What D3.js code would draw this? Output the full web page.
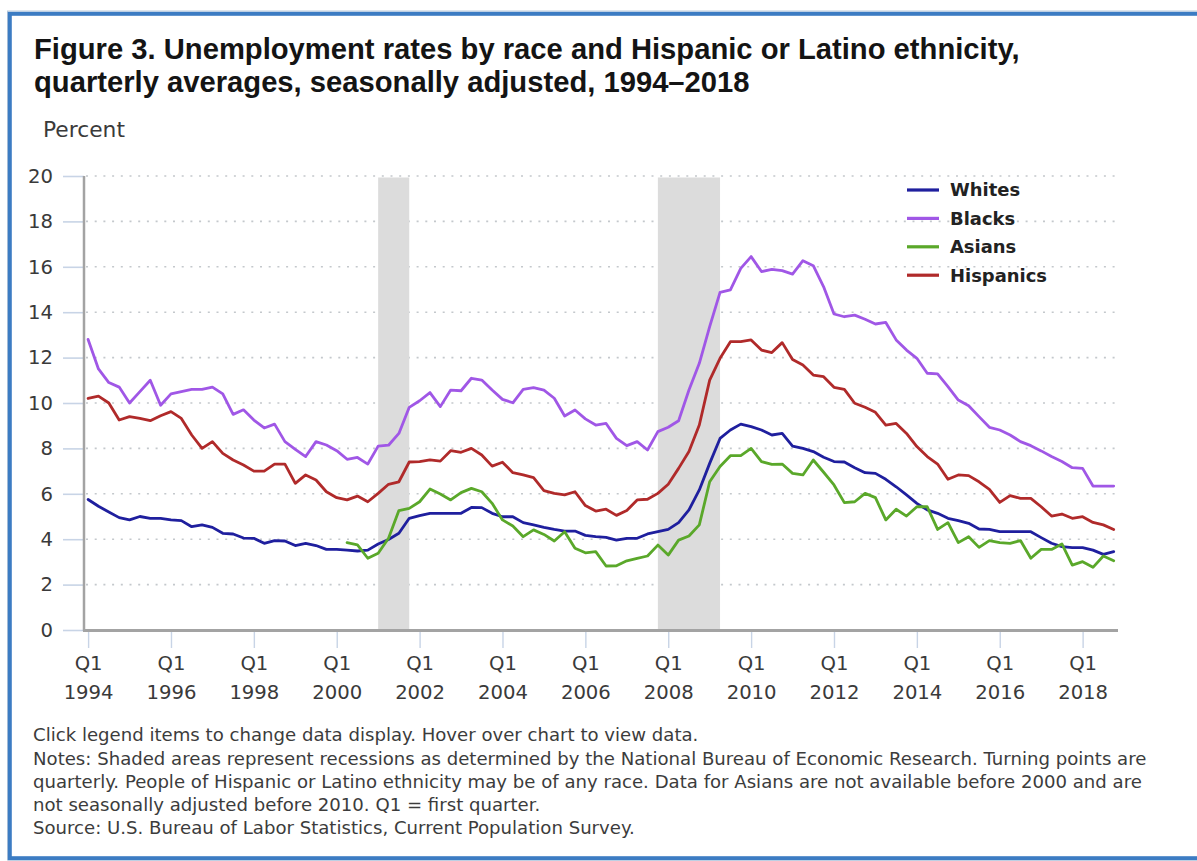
<!DOCTYPE html>
<html>
<head>
<meta charset="utf-8">
<title>Unemployment rates by race and Hispanic or Latino ethnicity</title>
<script src="https://cdn.jsdelivr.net/npm/d3@7"></script>
<style>
  html, body { margin: 0; padding: 0; background: #ffffff; }
  svg { display: block; }
</style>
</head>
<body>
<svg id="chart" width="1197" height="861"></svg>
<script>
// ---- Data: quarterly averages, percent -------------------------------------
const years = d3.range(1994, 2019);
const quarterNames = ["Q1", "Q2", "Q3", "Q4"];
const categories = years.flatMap(yr => quarterNames.map(q => `${yr} ${q}`));

const whites = [
  5.75, 5.45, 5.2, 4.95, 4.85, 5.0, 4.92, 4.92, 4.85, 4.82, 4.55, 4.63,
  4.52, 4.26, 4.23, 4.05, 4.04, 3.82, 3.94, 3.92, 3.72, 3.82, 3.72, 3.55,
  3.55, 3.52, 3.48, 3.52, 3.79, 3.99, 4.26, 4.92, 5.04, 5.14, 5.14, 5.14,
  5.14, 5.4, 5.39, 5.14, 4.99, 4.99, 4.73, 4.63, 4.52, 4.43, 4.36, 4.36,
  4.17, 4.11, 4.08, 3.96, 4.04, 4.04, 4.23, 4.33, 4.43, 4.73, 5.29, 6.17,
  7.34, 8.44, 8.81, 9.07, 8.96, 8.81, 8.59, 8.66, 8.1, 8.0, 7.86, 7.61,
  7.42, 7.4, 7.15, 6.93, 6.9, 6.64, 6.31, 5.95, 5.58, 5.29, 5.14, 4.92,
  4.82, 4.7, 4.45, 4.43, 4.33, 4.33, 4.33, 4.33, 4.07, 3.82, 3.67, 3.63,
  3.63, 3.52, 3.33, 3.45
];

const blacks = [
  12.8, 11.5, 10.9, 10.7, 10.0, 10.5, 11.0, 9.9, 10.4, 10.5, 10.6, 10.6,
  10.7, 10.4, 9.5, 9.7, 9.25, 8.9, 9.07, 8.3, 7.96, 7.64, 8.3, 8.15,
  7.9, 7.52, 7.6, 7.31, 8.1, 8.14, 8.66, 9.81, 10.1, 10.46, 9.84, 10.57,
  10.54, 11.09, 11.01, 10.57, 10.16, 10.01, 10.6, 10.68, 10.57, 10.21, 9.43, 9.69,
  9.3, 9.03, 9.1, 8.44, 8.12, 8.3, 7.93, 8.74, 8.93, 9.22, 10.57, 11.75,
  13.36, 14.87, 14.98, 15.93, 16.45, 15.79, 15.89, 15.83, 15.68, 16.27, 16.05, 15.12,
  13.92, 13.8, 13.87, 13.69, 13.48, 13.55, 12.78, 12.33, 11.97, 11.31, 11.28, 10.72,
  10.13, 9.88, 9.4, 8.93, 8.81, 8.59, 8.3, 8.12, 7.89, 7.64, 7.42, 7.15,
  7.12, 6.34, 6.34, 6.34
];

// Not available before 2000
const asians = [
  null, null, null, null, null, null, null, null, null, null, null, null,
  null, null, null, null, null, null, null, null, null, null, null, null,
  null, 3.85, 3.75, 3.16, 3.38, 4.04, 5.26, 5.36, 5.65, 6.21, 5.99, 5.73,
  6.05, 6.24, 6.09, 5.58, 4.85, 4.58, 4.11, 4.41, 4.21, 3.92, 4.33, 3.6,
  3.4, 3.45, 2.82, 2.83, 3.05, 3.16, 3.26, 3.74, 3.3, 3.96, 4.14, 4.63,
  6.53, 7.2, 7.68, 7.68, 8.0, 7.42, 7.3, 7.31, 6.9, 6.83, 7.49, 6.95,
  6.39, 5.61, 5.65, 6.02, 5.83, 4.85, 5.32, 5.02, 5.43, 5.43, 4.43, 4.73,
  3.85, 4.11, 3.64, 3.94, 3.85, 3.82, 3.94, 3.16, 3.55, 3.55, 3.79, 2.86,
  3.01, 2.76, 3.26, 3.05
];

const hispanics = [
  10.2, 10.3, 10.0, 9.25, 9.4, 9.32, 9.22, 9.44, 9.62, 9.32, 8.59, 8.0,
  8.3, 7.78, 7.49, 7.27, 7.0, 7.0, 7.31, 7.31, 6.46, 6.83, 6.61, 6.09,
  5.83, 5.73, 5.9, 5.65, 6.02, 6.42, 6.53, 7.4, 7.42, 7.49, 7.44, 7.9,
  7.83, 8.0, 7.71, 7.22, 7.39, 6.93, 6.83, 6.71, 6.14, 6.02, 5.95, 6.09,
  5.48, 5.24, 5.32, 5.05, 5.26, 5.73, 5.76, 6.02, 6.42, 7.12, 7.86, 9.03,
  11.01, 11.97, 12.7, 12.7, 12.78, 12.33, 12.22, 12.66, 11.92, 11.67, 11.23, 11.16,
  10.69, 10.6, 9.99, 9.81, 9.59, 9.03, 9.1, 8.66, 8.08, 7.64, 7.31, 6.64,
  6.83, 6.8, 6.53, 6.2, 5.62, 5.92, 5.8, 5.8, 5.43, 5.02, 5.11, 4.92,
  4.99, 4.74, 4.63, 4.43
];

const seriesNames = ["Whites", "Blacks", "Asians", "Hispanics"];
const seriesValues = [whites, blacks, asians, hispanics];
const seriesColors = ["#1f1f9e", "#a057e6", "#5aa82a", "#b02a2a"];

// NBER recessions, turning points by quarter
const recessions = [["2001 Q1", "2001 Q4"], ["2007 Q4", "2009 Q2"]];

const tickYears = [1994, 1996, 1998, 2000, 2002, 2004, 2006, 2008, 2010, 2012, 2014, 2016, 2018];
const yTicks = [0, 2, 4, 6, 8, 10, 12, 14, 16, 18, 20];

const titleLines = [
  "Figure 3. Unemployment rates by race and Hispanic or Latino ethnicity,",
  "quarterly averages, seasonally adjusted, 1994\u20132018"
];
const noteLines = [
  "Click legend items to change data display. Hover over chart to view data.",
  "Notes: Shaded areas represent recessions as determined by the National Bureau of Economic Research. Turning points are",
  "quarterly. People of Hispanic or Latino ethnicity may be of any race. Data for Asians are not available before 2000 and are",
  "not seasonally adjusted before 2010. Q1 = first quarter.",
  "Source: U.S. Bureau of Labor Statistics, Current Population Survey."
];

// ---- Drawing ---------------------------------------------------------------
const svg = d3.select("#chart");
const sansBold = "'Liberation Sans', Arial, sans-serif";
const uiFont = "'DejaVu Sans', Verdana, sans-serif";

// scale a text element's font so its rendered width equals the given width
function fitWidth(sel, width) {
  const fs = parseFloat(sel.attr("font-size"));
  const w = sel.node().getComputedTextLength();
  return fs * width / w;
}

// frame
svg.append("rect").attr("x", 7.5).attr("y", 11).attr("width", 1240).attr("height", 849)
  .attr("fill", "none").attr("stroke", "#bccbdc").attr("stroke-width", 1);
svg.append("rect").attr("x", 9.8).attr("y", 13.8).attr("width", 1240).attr("height", 844.4)
  .attr("fill", "none").attr("stroke", "#3c7cc3").attr("stroke-width", 4);

// title
const title = svg.append("g").attr("font-family", sansBold).attr("font-weight", "bold").attr("fill", "#141414");
const t1 = title.append("text").attr("x", 34).attr("y", 59).attr("font-size", 26).text(titleLines[0]);
const titleSize = fitWidth(t1, 986);
t1.attr("font-size", titleSize);
title.append("text").attr("x", 34).attr("y", 92).attr("font-size", titleSize).text(titleLines[1]);

// axis title
const unit = svg.append("text").attr("x", 43).attr("y", 137).attr("font-family", uiFont)
  .attr("font-size", 17).attr("fill", "#3a3a3a").text("Percent");
unit.attr("font-size", fitWidth(unit, 82));

// scales
const x = d3.scalePoint().domain(categories).range([88.1, 1113.7]);
const y = d3.scaleLinear().domain([0, 20]).range([630, 176]);
const plotLeft = 84, plotRight = 1118;

// gridlines
svg.append("g").selectAll("line").data(yTicks.filter(v => v > 0)).join("line")
  .attr("x1", plotLeft + 2).attr("x2", plotRight)
  .attr("y1", d => y(d)).attr("y2", d => y(d))
  .attr("stroke", "#c4c8cc").attr("stroke-width", 1.6)
  .attr("stroke-dasharray", "2,6.7");

// recession bands
svg.append("g").selectAll("rect").data(recessions).join("rect")
  .attr("x", d => x(d[0]))
  .attr("width", d => x(d[1]) - x(d[0]))
  .attr("y", y(20) + 1.5)
  .attr("height", y(0) - y(20) - 1.5)
  .attr("fill", "#dcdcdc");

// label sizing
const probe = svg.append("text").attr("font-family", uiFont).attr("font-size", 18).text("1994");
const labelSize = fitWidth(probe, 50);
probe.remove();

// y axis
const yAxis = svg.append("g").attr("transform", `translate(${plotLeft},0)`)
  .call(d3.axisLeft(y).tickValues(yTicks).tickSize(21).tickPadding(10).tickFormat(d3.format("d")));
yAxis.select(".domain").remove();
yAxis.selectAll(".tick line").attr("stroke", "#c8d4e6").attr("stroke-width", 1.6);
yAxis.selectAll(".tick text").attr("font-family", uiFont).attr("font-size", labelSize)
  .attr("fill", "#3a3a3a");

// x axis
const xTickCats = tickYears.map(yr => `${yr} Q1`);
const xAxis = svg.append("g").attr("transform", `translate(0,${y(0)})`)
  .call(d3.axisBottom(x).tickValues(xTickCats).tickSize(18).tickFormat(""));
xAxis.select(".domain").remove();
xAxis.selectAll(".tick line").attr("stroke", "#c8d4e6").attr("stroke-width", 1.4);
xAxis.selectAll(".tick").each(function (d) {
  const g = d3.select(this);
  const [yr, q] = d.split(" ");
  g.append("text").attr("y", 40).attr("text-anchor", "middle").attr("font-family", uiFont)
    .attr("font-size", labelSize).attr("fill", "#3a3a3a").text(q);
  g.append("text").attr("y", 69).attr("text-anchor", "middle").attr("font-family", uiFont)
    .attr("font-size", labelSize).attr("fill", "#3a3a3a").text(yr);
});

// axis lines
svg.append("line").attr("x1", plotLeft).attr("x2", plotLeft).attr("y1", y(20)).attr("y2", y(0) + 1)
  .attr("stroke", "#a3a3a3").attr("stroke-width", 2.5);
svg.append("line").attr("x1", plotLeft - 1).attr("x2", plotRight).attr("y1", y(0) + 0.5).attr("y2", y(0) + 0.5)
  .attr("stroke", "#a3a3a3").attr("stroke-width", 3);

// series lines
const line = d3.line()
  .defined(d => d.v != null)
  .x(d => x(d.c))
  .y(d => y(d.v));

svg.append("g").selectAll("path").data(seriesValues).join("path")
  .attr("d", vals => line(vals.map((v, i) => ({ c: categories[i], v }))))
  .attr("fill", "none")
  .attr("stroke", (d, i) => seriesColors[i])
  .attr("stroke-width", 2.8)
  .attr("stroke-linejoin", "round")
  .attr("stroke-linecap", "round");

// legend
const legend = svg.append("g").attr("transform", "translate(907,190)");
const rows = legend.selectAll("g").data(seriesNames).join("g")
  .attr("transform", (d, i) => `translate(0,${i * 28.4})`);
rows.append("line").attr("x1", 0).attr("x2", 32).attr("y1", 0).attr("y2", 0)
  .attr("stroke", (d, i) => seriesColors[i]).attr("stroke-width", 3.2);
const legendTexts = rows.append("text").attr("x", 43).attr("dy", "0.36em")
  .attr("font-family", uiFont).attr("font-weight", "bold").attr("font-size", 18)
  .attr("fill", "#222").text(d => d);
const legendSize = fitWidth(d3.select(legendTexts.nodes()[3]), 97);
legendTexts.attr("font-size", legendSize);

// notes
const notes = svg.append("g").attr("font-family", uiFont).attr("fill", "#3c3c3c");
const noteBaselines = [741, 765, 788, 811, 834];
const noteTexts = notes.selectAll("text").data(noteLines).join("text")
  .attr("x", 33).attr("y", (d, i) => noteBaselines[i]).attr("font-size", 15).text(d => d);
const noteSize = fitWidth(d3.select(noteTexts.nodes()[1]), 1114);
noteTexts.attr("font-size", noteSize);
</script>
</body>
</html>
